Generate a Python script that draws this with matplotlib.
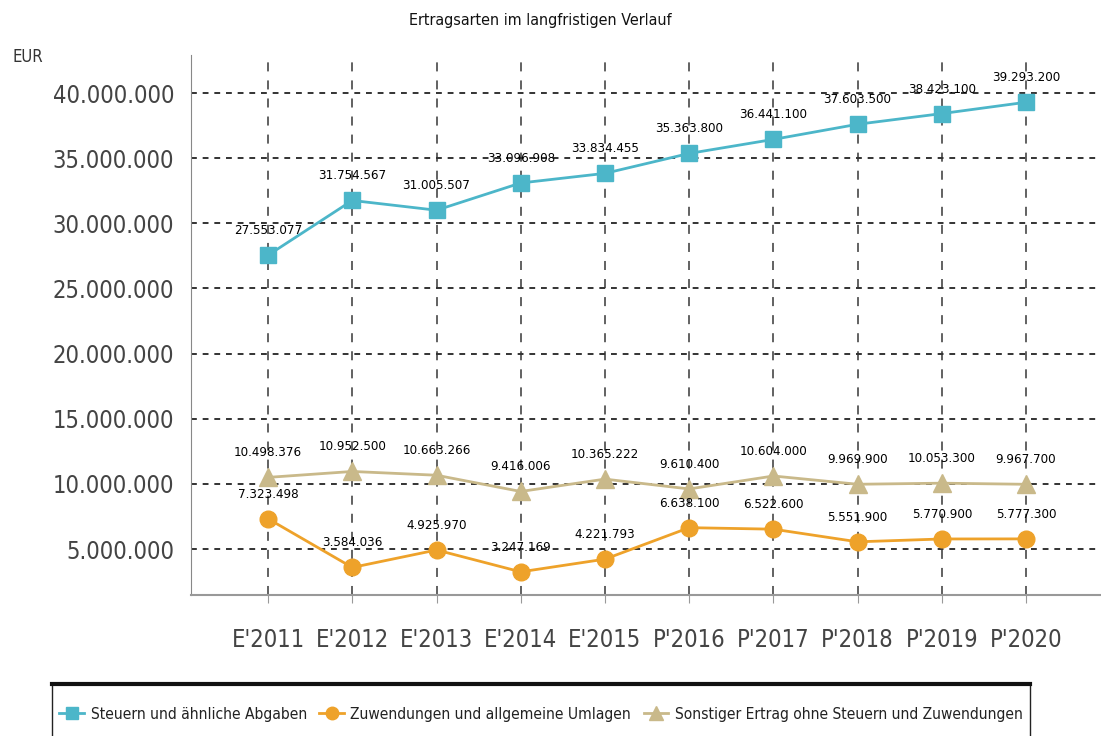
import matplotlib
matplotlib.use("Agg")
import matplotlib.pyplot as plt
from matplotlib.patches import Rectangle
from matplotlib.lines import Line2D
from matplotlib.ticker import FuncFormatter

categories = ["E'2011", "E'2012", "E'2013", "E'2014", "E'2015",
              "P'2016", "P'2017", "P'2018", "P'2019", "P'2020"]
steuern = [27553077, 31754567, 31005507, 33096908, 33834455,
           35363800, 36441100, 37603500, 38423100, 39293200]
zuwendungen = [7323498, 3584036, 4925970, 3247169, 4221793,
               6638100, 6522600, 5551900, 5770900, 5777300]
sonstige = [10498376, 10952500, 10663266, 9416006, 10365222,
            9610400, 10604000, 9969900, 10053300, 9967700]
series_names = ["Steuern und ähnliche Abgaben",
                "Zuwendungen und allgemeine Umlagen",
                "Sonstiger Ertrag ohne Steuern und Zuwendungen"]
yticks = [5000000, 10000000, 15000000, 20000000, 25000000,
          30000000, 35000000, 40000000]

FONT = dict(family="DejaVu Sans", stretch="condensed")

def de(v):
    return f"{int(v):,}".replace(",", ".")

fig = plt.figure(figsize=(11.01, 7.36), dpi=100)
ax = fig.add_axes([191 / 1101, 1 - 595 / 736, 1 - 191 / 1101, (595 - 55) / 736])

x = list(range(len(categories)))
c_teal = "#4cb6c9"
c_orange = "#eea22a"
c_tan = "#c9b98a"

ax.plot(x, steuern, color=c_teal, lw=2, marker="s", ms=12, zorder=3)
ax.plot(x, zuwendungen, color=c_orange, lw=2, marker="o", ms=12, zorder=3)
ax.plot(x, sonstige, color=c_tan, lw=2, marker="^", ms=13, zorder=3)

for xs, ys in [(x, steuern), (x, zuwendungen), (x, sonstige)]:
    for xi, yi in zip(xs, ys):
        ax.annotate(de(yi), (xi, yi), xytext=(0, 13), textcoords="offset points",
                    ha="center", va="bottom", fontsize=9.5, color="#000000",
                    zorder=5, **FONT)

ax.set_xlim(-0.915, 9.89)
ax.set_ylim(1470000, 42920000)
ax.set_xticks(x)
ax.set_xticklabels(categories)
ax.set_yticks(yticks)
ax.yaxis.set_major_formatter(FuncFormatter(lambda v, p: de(v)))
for lab in ax.get_xticklabels() + ax.get_yticklabels():
    lab.set_fontsize(17)
    lab.set_color("#444444")
    lab.set_family("DejaVu Sans")
    lab.set_stretch("condensed")

ax.xaxis.grid(True, color="#555555", ls=(0, (5, 5)), lw=1.3)
ax.yaxis.grid(True, color="#333333", ls=(0, (3, 3)), lw=1.4)
ax.set_axisbelow(True)
for s in ["top", "right"]:
    ax.spines[s].set_visible(False)
ax.spines["left"].set_color("#888888")
ax.spines["bottom"].set_color("#999999")
ax.spines["bottom"].set_linewidth(1.5)
ax.tick_params(axis="y", length=0, pad=12)
ax.tick_params(axis="x", length=6, color="#999999", pad=18)

fig.text(540 / 1101, 1 - 20 / 736, "Ertragsarten im langfristigen Verlauf",
         ha="center", va="center", fontsize=11.5, color="#111111", **FONT)
fig.text(12 / 1101, 1 - 57 / 736, "EUR", ha="left", va="center",
         fontsize=12, color="#333333", **FONT)

# legend box
fig.add_artist(Rectangle((52 / 1101, -0.02), (1030 - 52) / 1101, (736 - 684) / 736 + 0.02,
                         transform=fig.transFigure, facecolor="white",
                         edgecolor="#222222", lw=1))
fig.add_artist(Line2D([52 / 1101, 1030 / 1101], [1 - 684 / 736] * 2,
                      transform=fig.transFigure, color="#111111", lw=3))
handles = [Line2D([], [], color=c_teal, lw=2, marker="s", ms=9),
           Line2D([], [], color=c_orange, lw=2, marker="o", ms=9),
           Line2D([], [], color=c_tan, lw=2, marker="^", ms=10)]
leg = fig.legend(handles, series_names, loc="center",
                 bbox_to_anchor=(541 / 1101, 1 - 714 / 736), ncol=3,
                 frameon=False, handlelength=1.6, handletextpad=0.4,
                 columnspacing=0.8, prop=dict(size=11.2, **FONT))
for t in leg.get_texts():
    t.set_color("#222222")

fig.savefig("out.png", dpi=100)
